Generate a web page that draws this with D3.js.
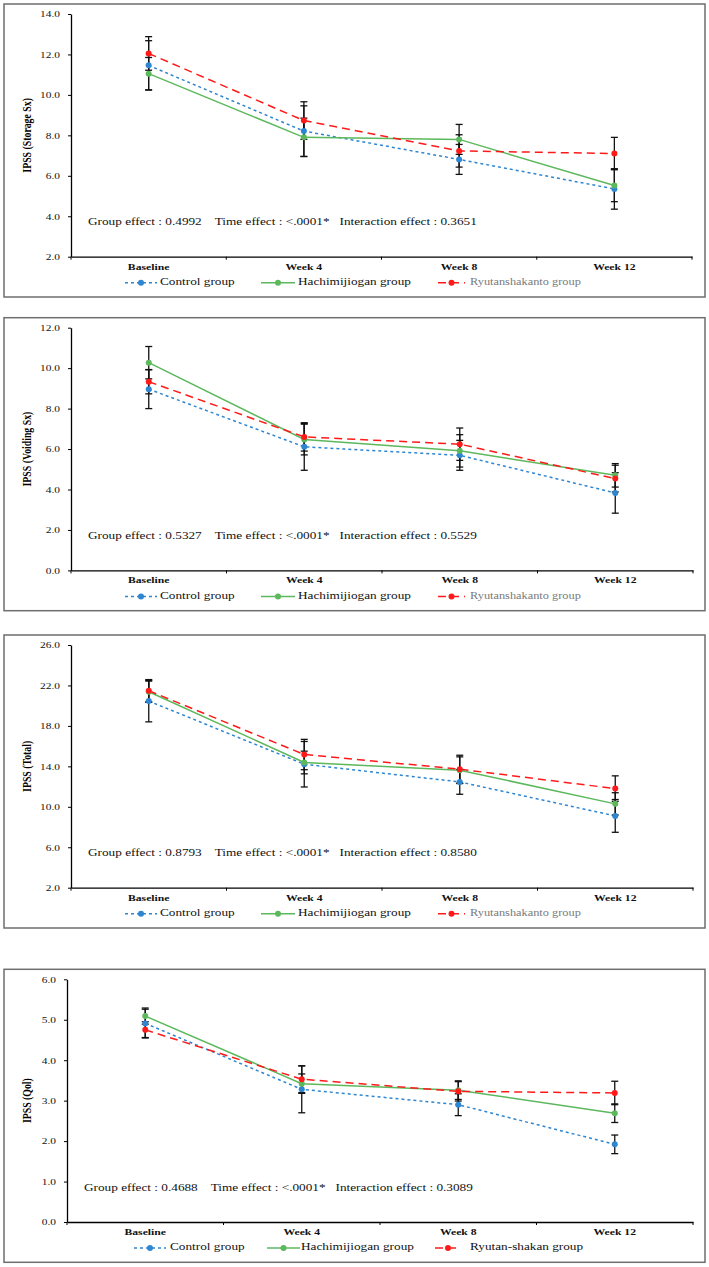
<!doctype html>
<html>
<head>
<meta charset="utf-8">
<style>
  body { margin: 0; background: #fff; }
  text { font-family: "Liberation Serif", "Times New Roman", serif; }
</style>
<script src="https://cdn.jsdelivr.net/npm/d3@7"></script>
</head>
<body>
<svg width="709" height="1267"></svg>
<script>
// categories on the x axis
var categories = ["Baseline", "Week 4", "Week 8", "Week 12"];

// Storage Sx
var storageControl = [11.46, 8.21, 6.81, 5.35],
    storageControlErr = [1.22, 1.25, 0.74, 1.00],
    storageHachi = [11.05, 7.90, 7.80, 5.52],
    storageHachiErr = [0.80, 0.95, 0.74, 0.80],
    storageRyu = [12.05, 8.73, 7.23, 7.10],
    storageRyuErr = [0.83, 0.93, 0.80, 0.80];

// Voiding Sx
var voidingControl = [8.96, 6.11, 5.69, 3.83],
    voidingControlErr = [0.96, 1.16, 0.74, 1.00],
    voidingHachi = [10.27, 6.47, 5.91, 4.70],
    voidingHachiErr = [0.80, 0.76, 0.80, 0.58],
    voidingRyu = [9.33, 6.60, 6.24, 4.54],
    voidingRyuErr = [0.60, 0.70, 0.80, 0.66];

// Total
var totalControl = [20.45, 14.21, 12.46, 9.10],
    totalControlErr = [2.05, 2.25, 1.22, 1.62],
    totalHachi = [21.38, 14.38, 13.62, 10.29],
    totalHachiErr = [1.05, 1.12, 1.32, 1.10],
    totalRyu = [21.48, 15.17, 13.72, 11.80],
    totalRyuErr = [1.10, 1.50, 1.38, 1.26];

// QoL
var qolControl = [4.91, 3.28, 2.90, 1.92],
    qolControlErr = [0.35, 0.58, 0.27, 0.23],
    qolHachi = [5.09, 3.42, 3.26, 2.69],
    qolHachiErr = [0.20, 0.24, 0.23, 0.23],
    qolRyu = [4.75, 3.53, 3.23, 3.19],
    qolRyuErr = [0.20, 0.33, 0.24, 0.29];

// tick labels per panel
var storageTicks = [2, 4, 6, 8, 10, 12, 14],
    voidingTicks = [0, 2, 4, 6, 8, 10, 12],
    totalTicks = [2, 6, 10, 14, 18, 22, 26],
    qolTicks = [0, 1, 2, 3, 4, 5, 6];

var yLabels = ["IPSS (Storage Sx)", "IPSS (Voiding Sx)", "IPSS (Total)", "IPSS (Qol)"];
var statTexts = [
  "Group effect : 0.4992    Time effect : <.0001*   Interaction effect : 0.3651",
  "Group effect : 0.5327    Time effect : <.0001*   Interaction effect : 0.5529",
  "Group effect : 0.8793    Time effect : <.0001*   Interaction effect : 0.8580",
  "Group effect : 0.4688    Time effect : <.0001*   Interaction effect : 0.3089"
];
var seriesNames = ["Control group", "Hachimijiogan group", "Ryutanshakanto group"],
    seriesNamesQol = ["Control group", "Hachimijiogan group", "Ryutan-shakan group"];

var svg = d3.select("svg");
var SX = 1.3; // the original figure is stretched sideways

var styles = [
  { color: "#2e86d1", dash: "3,3" },
  { color: "#5cb85c", dash: null },
  { color: "#ff1a1a", dash: "8,5" }
];

var panels = [
  { top: 4, left: 71, right: 692, ticks: storageTicks, label: yLabels[0], stat: statTexts[0],
    series: [[storageControl, storageControlErr], [storageHachi, storageHachiErr], [storageRyu, storageRyuErr]],
    names: seriesNames, legend: [[125, 157, 160], [261, 295, 298], [438, 465, 470]], greyLast: true },
  { top: 317.7, left: 71, right: 693, ticks: voidingTicks, label: yLabels[1], stat: statTexts[1],
    series: [[voidingControl, voidingControlErr], [voidingHachi, voidingHachiErr], [voidingRyu, voidingRyuErr]],
    names: seriesNames, legend: [[125, 157, 160], [261, 295, 298], [438, 465, 470]], greyLast: true },
  { top: 635, left: 71, right: 693, ticks: totalTicks, label: yLabels[2], stat: statTexts[2],
    series: [[totalControl, totalControlErr], [totalHachi, totalHachiErr], [totalRyu, totalRyuErr]],
    names: seriesNames, legend: [[125, 157, 160], [261, 295, 298], [438, 465, 470]], greyLast: true },
  { top: 969.3, left: 67, right: 693, ticks: qolTicks, label: yLabels[3], stat: statTexts[3],
    series: [[qolControl, qolControlErr], [qolHachi, qolHachiErr], [qolRyu, qolRyuErr]],
    names: seriesNamesQol, legend: [[134, 166, 170], [267, 300, 301], [435, 461, 470]], greyLast: false }
];

panels.forEach(drawPanel);

function drawPanel(p) {
  var g = svg.append("g");
  var plotTop = p.top + 10, plotBottom = p.top + 252.7;

  // frame
  g.append("rect")
   .attr("x", 4).attr("y", p.top)
   .attr("width", 701).attr("height", 293)
   .attr("fill", "none").attr("stroke", "#6e6e6e").attr("stroke-width", 1.5);

  var x = d3.scaleBand().domain(categories).range([p.left, p.right]);
  var y = d3.scaleLinear().domain(d3.extent(p.ticks)).range([plotBottom, plotTop]);
  var cx = function(i) { return x(categories[i]) + x.bandwidth() / 2; };

  // y axis
  var ya = g.append("g")
   .attr("transform", "translate(" + p.left + ",0)")
   .call(d3.axisLeft(y).tickValues(p.ticks).tickFormat(d3.format(".1f")).tickSize(3).tickSizeOuter(0));
  ya.select(".domain").attr("stroke", "#000").attr("stroke-width", 1.3);
  ya.selectAll(".tick line").attr("stroke", "#000");
  ya.selectAll(".tick text")
   .attr("x", -11 / SX).attr("dy", "0.32em")
   .attr("transform", "scale(" + SX + ",1)")
   .attr("font-family", "Liberation Serif").attr("font-size", "8.8px").attr("fill", "#111");

  // x axis: labels at band centres, ticks at band edges
  var xa = g.append("g")
   .attr("transform", "translate(0," + plotBottom + ")")
   .call(d3.axisBottom(x).tickSize(0).tickSizeOuter(0));
  xa.select(".domain").attr("stroke", "#000").attr("stroke-width", 1.3);
  xa.selectAll(".tick text")
   .attr("y", 10).attr("dy", "0.32em")
   .attr("transform", "scale(" + SX + ",1)")
   .attr("font-family", "Liberation Serif").attr("font-size", "9px")
   .attr("font-weight", "bold").attr("fill", "#111");
  var edges = categories.map(function(c) { return x(c); }).concat([p.right]);
  xa.selectAll(".edge").data(edges).enter().append("line")
   .attr("x1", function(d) { return d; }).attr("x2", function(d) { return d; })
   .attr("y1", 0).attr("y2", 3).attr("stroke", "#000");

  // y label
  g.append("text")
   .attr("transform", "translate(28," + ((plotTop + plotBottom) / 2) + ") scale(" + SX + ",1) rotate(-90)")
   .attr("text-anchor", "middle").attr("dominant-baseline", "middle")
   .attr("font-size", "9.8px").attr("font-weight", "bold")
   .text(p.label);

  // stats text
  g.append("text")
   .attr("transform", "translate(" + (p.left + 17) + "," + (plotTop + 209) + ") scale(" + SX + ",1)")
   .attr("dominant-baseline", "middle")
   .attr("font-size", "10.2px").attr("fill", "#111")
   .style("white-space", "pre")
   .text(p.stat);

  // lines
  p.series.forEach(function(s, k) {
    var line = d3.line().x(function(d, i) { return cx(i); }).y(function(d) { return y(d); });
    g.append("path").datum(s[0])
     .attr("d", line).attr("fill", "none")
     .attr("stroke", styles[k].color).attr("stroke-width", 1.5)
     .attr("stroke-dasharray", styles[k].dash);
  });

  // error bars
  p.series.forEach(function(s) {
    var eb = g.append("g").attr("stroke", "#111").attr("stroke-width", 1.3);
    s[0].forEach(function(v, i) {
      var lo = y(v - s[1][i]), hi = y(v + s[1][i]);
      eb.append("line").attr("x1", cx(i)).attr("x2", cx(i)).attr("y1", lo).attr("y2", hi);
      eb.append("line").attr("x1", cx(i) - 3.5).attr("x2", cx(i) + 3.5).attr("y1", lo).attr("y2", lo);
      eb.append("line").attr("x1", cx(i) - 3.5).attr("x2", cx(i) + 3.5).attr("y1", hi).attr("y2", hi);
    });
  });

  // markers
  p.series.forEach(function(s, k) {
    g.selectAll(".m" + k).data(s[0]).enter().append("circle")
     .attr("cx", function(d, i) { return cx(i); })
     .attr("cy", function(d) { return y(d); })
     .attr("r", 3).attr("fill", styles[k].color);
  });

  // legend
  var ly = plotBottom + 26;
  p.legend.forEach(function(L, k) {
    g.append("line").attr("x1", L[0]).attr("x2", L[1]).attr("y1", ly).attr("y2", ly)
     .attr("stroke", styles[k].color).attr("stroke-width", 1.5)
     .attr("stroke-dasharray", styles[k].dash);
    g.append("circle").attr("cx", (L[0] + L[1]) / 2).attr("cy", ly).attr("r", 3).attr("fill", styles[k].color);
    var grey = p.greyLast && k === 2;
    g.append("text")
     .attr("transform", "translate(" + L[2] + "," + ly + ") scale(" + SX + ",1)")
     .attr("dominant-baseline", "middle")
     .attr("font-size", grey ? "9.5px" : "10.2px")
     .attr("fill", grey ? "#7a7a7a" : "#111")
     .text(p.names[k]);
  });
}
</script>
</body>
</html>
